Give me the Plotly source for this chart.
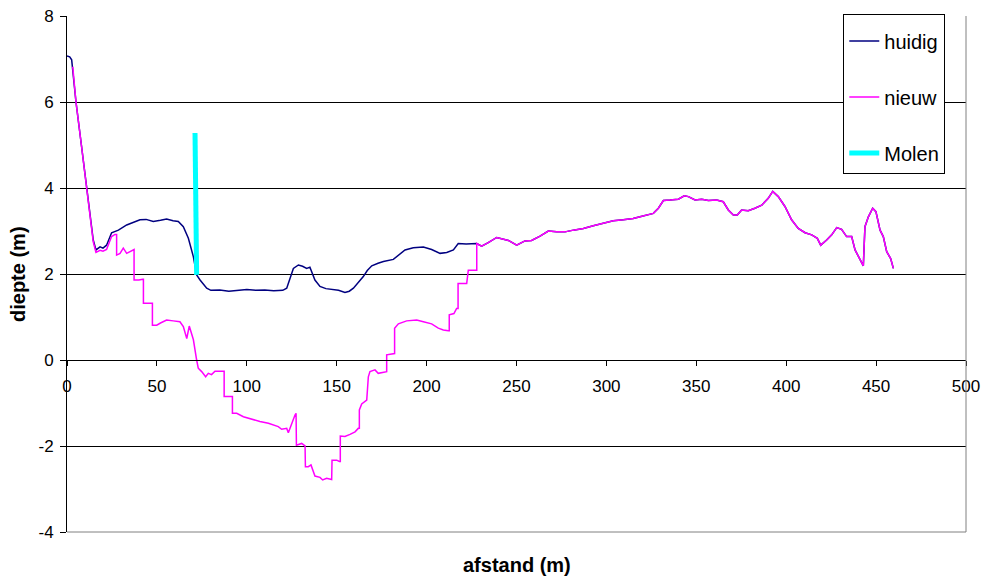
import plotly.graph_objects as go

# --- data ---
huidig_x = [0, 1.5, 2.6, 5, 8, 10.9, 13, 14.6, 16.1, 18.4, 20, 22, 24.8, 28.6, 33.2, 37, 40.6, 44, 48, 52,
            55.4, 59, 61.9, 64.7, 67.5, 70.3, 72.1, 74, 75.5, 77.7, 80, 85, 90, 95, 100, 105, 110, 115, 120,
            122.2, 124, 125.9, 128.7, 131, 133.3, 135.1, 137.9, 140.7, 144, 148, 151, 154.6, 157, 159.3, 162,
            164.8, 167, 169.5, 173, 176, 181.5, 185, 188, 192.6, 198.2, 202.8, 207.5, 211.2, 214.9, 217.6,
            222, 227.9]
huidig_y = [7.07, 7.05, 6.98, 6.0, 5.0, 4.0, 3.3, 2.79, 2.56, 2.63, 2.6, 2.67, 2.96, 3.02, 3.14, 3.2, 3.26,
            3.27, 3.22, 3.25, 3.28, 3.24, 3.22, 3.1, 2.83, 2.4, 1.98, 1.86, 1.78, 1.67, 1.62, 1.63, 1.6, 1.62,
            1.64, 1.62, 1.63, 1.61, 1.62, 1.67, 1.9, 2.13, 2.21, 2.18, 2.13, 2.16, 1.86, 1.71, 1.66, 1.64,
            1.62, 1.57, 1.6, 1.67, 1.8, 1.94, 2.08, 2.19, 2.25, 2.29, 2.34, 2.45, 2.56, 2.61, 2.63, 2.57,
            2.48, 2.50, 2.56, 2.71, 2.70, 2.71]

nieuw_x = [3.2, 5, 8, 10.9, 13, 14.6, 16.1, 18.4, 20, 22, 24.8, 26.7, 27.6, 27.6, 29.5, 31.3, 33.2, 35, 36.9,
           37.3, 37.3, 40, 42.1, 42.5, 42.5, 47.1, 47.5, 47.5, 49.9, 52, 55.4, 59.1, 62.8, 64.7, 66.6, 68,
           70.3, 72.1, 73, 74.9, 77.1, 78.6, 80.4, 82.3, 87, 87.4, 87.4, 91.6, 92, 92, 94.4, 98.1, 102.7,
           107.3, 112, 117.5, 119.4, 122.2, 123.1, 124.9, 126.8, 127.4, 127.6, 130.5, 132.4, 132.6, 134.2,
           135.7, 137, 137.9, 140.7, 142.2, 144.4, 147.2, 147.4, 150, 151.5, 152, 152, 154.6, 157.4, 160.2,
           162, 162.6, 162.6, 163.9, 166.7, 167.6, 168.5, 171.3, 173.1, 176, 177.4, 177.8, 177.8, 181.5,
           182.2, 182.2, 184.3, 188.9, 194.5, 198.2, 202.8, 206.5, 209.3, 212.1, 212.6, 212.6, 215.2, 216.7,
           217.5, 217.5, 222.3, 223.2, 227.5, 227.9, 227.9]
nieuw_y = [6.82, 6.0, 5.0, 4.0, 3.25, 2.75, 2.5, 2.55, 2.53, 2.57, 2.87, 2.92, 2.92, 2.44, 2.48, 2.6, 2.48,
           2.52, 2.57, 2.57, 1.86, 1.86, 1.88, 1.88, 1.32, 1.32, 1.32, 0.81, 0.81, 0.86, 0.93, 0.91, 0.89,
           0.78, 0.5, 0.79, 0.47, 0.0, -0.19, -0.27, -0.39, -0.31, -0.34, -0.26, -0.26, -0.26, -0.85, -0.85,
           -0.85, -1.24, -1.24, -1.32, -1.38, -1.43, -1.47, -1.55, -1.61, -1.59, -1.69, -1.47, -1.28, -1.24,
           -1.98, -1.94, -2.0, -2.48, -2.48, -2.44, -2.6, -2.7, -2.73, -2.79, -2.75, -2.78, -2.33, -2.33,
           -2.36, -2.36, -1.77, -1.78, -1.73, -1.67, -1.59, -1.59, -1.16, -1.02, -0.93, -0.39, -0.27, -0.23,
           -0.31, -0.29, -0.27, -0.27, 0.12, 0.15, 0.15, 0.74, 0.84, 0.91, 0.93, 0.89, 0.84, 0.74, 0.7, 0.68,
           0.68, 1.05, 1.08, 1.2, 1.2, 1.78, 1.78, 2.09, 2.09, 2.09, 2.71]

# shared profile after ~228 m (both series coincide)
tail_x = [230.6, 234.3, 239, 245.5, 250.1, 254.7, 258.4, 263.1, 267.7, 272.3, 277, 281.6, 287.2, 292.7, 298.3,
          303.8, 309.4, 314.9, 318.7, 322.4, 326.1, 328.9, 331.7, 335.4, 340, 343.3, 345.6, 349.3, 353,
          356.7, 361.3, 365, 367.8, 370.6, 372.8, 375.2, 378.9, 382.6, 386.4, 390, 392.5, 395.6, 399.3, 403,
          406.7, 410.5, 414.2, 417.3, 419.2, 422.5, 425.3, 428.1, 430.8, 433.6, 436.4, 438.3, 441, 442.9,
          443.8, 445.7, 448.1, 449.9, 452.2, 454, 455.9, 458.1, 459.6]
tail_y = [2.65, 2.73, 2.85, 2.78, 2.67, 2.77, 2.78, 2.88, 3.0, 2.98, 2.98, 3.02, 3.06, 3.12, 3.18, 3.24, 3.26,
          3.29, 3.33, 3.37, 3.41, 3.53, 3.71, 3.72, 3.74, 3.82, 3.8, 3.72, 3.74, 3.71, 3.72, 3.68, 3.49, 3.37,
          3.37, 3.49, 3.47, 3.53, 3.6, 3.76, 3.92, 3.8, 3.57, 3.26, 3.06, 2.96, 2.91, 2.83, 2.67, 2.79, 2.91,
          3.08, 3.04, 2.87, 2.87, 2.56, 2.33, 2.19, 3.1, 3.33, 3.53, 3.45, 3.02, 2.87, 2.52, 2.36, 2.13]

molen_x = [71.2, 72.1]
molen_y = [5.28, 1.98]

x_ticks = [0, 50, 100, 150, 200, 250, 300, 350, 400, 450, 500]
y_ticks = [-4, -2, 0, 2, 4, 6, 8]

FONT = "Liberation Sans, Arial, sans-serif"

fig = go.Figure()
fig.add_trace(go.Scatter(x=huidig_x + tail_x, y=huidig_y + tail_y, mode="lines", name="huidig",
                         line=dict(color="#000080", width=1.5), legendgroup="a"))
fig.add_trace(go.Scatter(x=nieuw_x + tail_x, y=nieuw_y + tail_y, mode="lines", name="nieuw",
                         line=dict(color="#FF00FF", width=1.5), legendgroup="b"))
fig.add_trace(go.Scatter(x=molen_x, y=molen_y, mode="lines", name="Molen",
                         line=dict(color="#00FFFF", width=5), legendgroup="c"))

fig.update_layout(
    width=982, height=576,
    margin=dict(l=67, r=16, t=16, b=44, autoexpand=False),
    paper_bgcolor="white", plot_bgcolor="white",
    font=dict(family=FONT, size=17, color="black"),
    showlegend=True,
    legend=dict(x=0.8635, y=1.004, xanchor="left", yanchor="top",
                bordercolor="black", borderwidth=1, bgcolor="white",
                font=dict(family=FONT, size=20, color="black"),
                title=dict(text=" ", font=dict(size=5)),
                traceorder="grouped", tracegroupgap=27, itemwidth=30,
                entrywidth=81, entrywidthmode="pixels"),
    xaxis=dict(range=[0, 500], tickvals=x_ticks, ticktext=[str(v) for v in x_ticks],
               anchor="free", position=1/3, showline=True, linecolor="black", linewidth=1,
               ticks="outside", ticklen=5, tickcolor="black", showgrid=False, zeroline=False,
               ticklabelstandoff=6, tickfont=dict(family=FONT, size=17)),
    yaxis=dict(range=[-4, 8], tickvals=y_ticks, ticktext=[str(v) for v in y_ticks],
               showline=True, linecolor="black", linewidth=1, ticks="outside", ticklen=6,
               tickcolor="black", showgrid=True, gridcolor="black", gridwidth=1,
               zeroline=True, zerolinecolor="black", zerolinewidth=1,
               ticklabelstandoff=3, tickfont=dict(family=FONT, size=17)),
    shapes=[
        dict(type="line", xref="paper", yref="paper", x0=1, x1=1, y0=0, y1=1,
             line=dict(color="#808080", width=1)),
        dict(type="line", xref="paper", yref="paper", x0=0, x1=1, y0=0, y1=0,
             line=dict(color="#808080", width=1)),
    ],
    annotations=[
        dict(text="<b>afstand (m)</b>", xref="paper", yref="paper", x=0.5, y=-0.064,
             xanchor="center", yanchor="middle", showarrow=False,
             font=dict(family=FONT, size=20, color="black")),
        dict(text="<b>diepte (m)</b>", xref="paper", yref="paper", x=-0.0545, y=0.5,
             xanchor="center", yanchor="middle", textangle=-90, showarrow=False,
             font=dict(family=FONT, size=20, color="black")),
    ],
)

fig.write_html("out.html", config={"displayModeBar": False},
               post_script="document.body.style.margin='0';document.body.style.overflow='hidden';")
